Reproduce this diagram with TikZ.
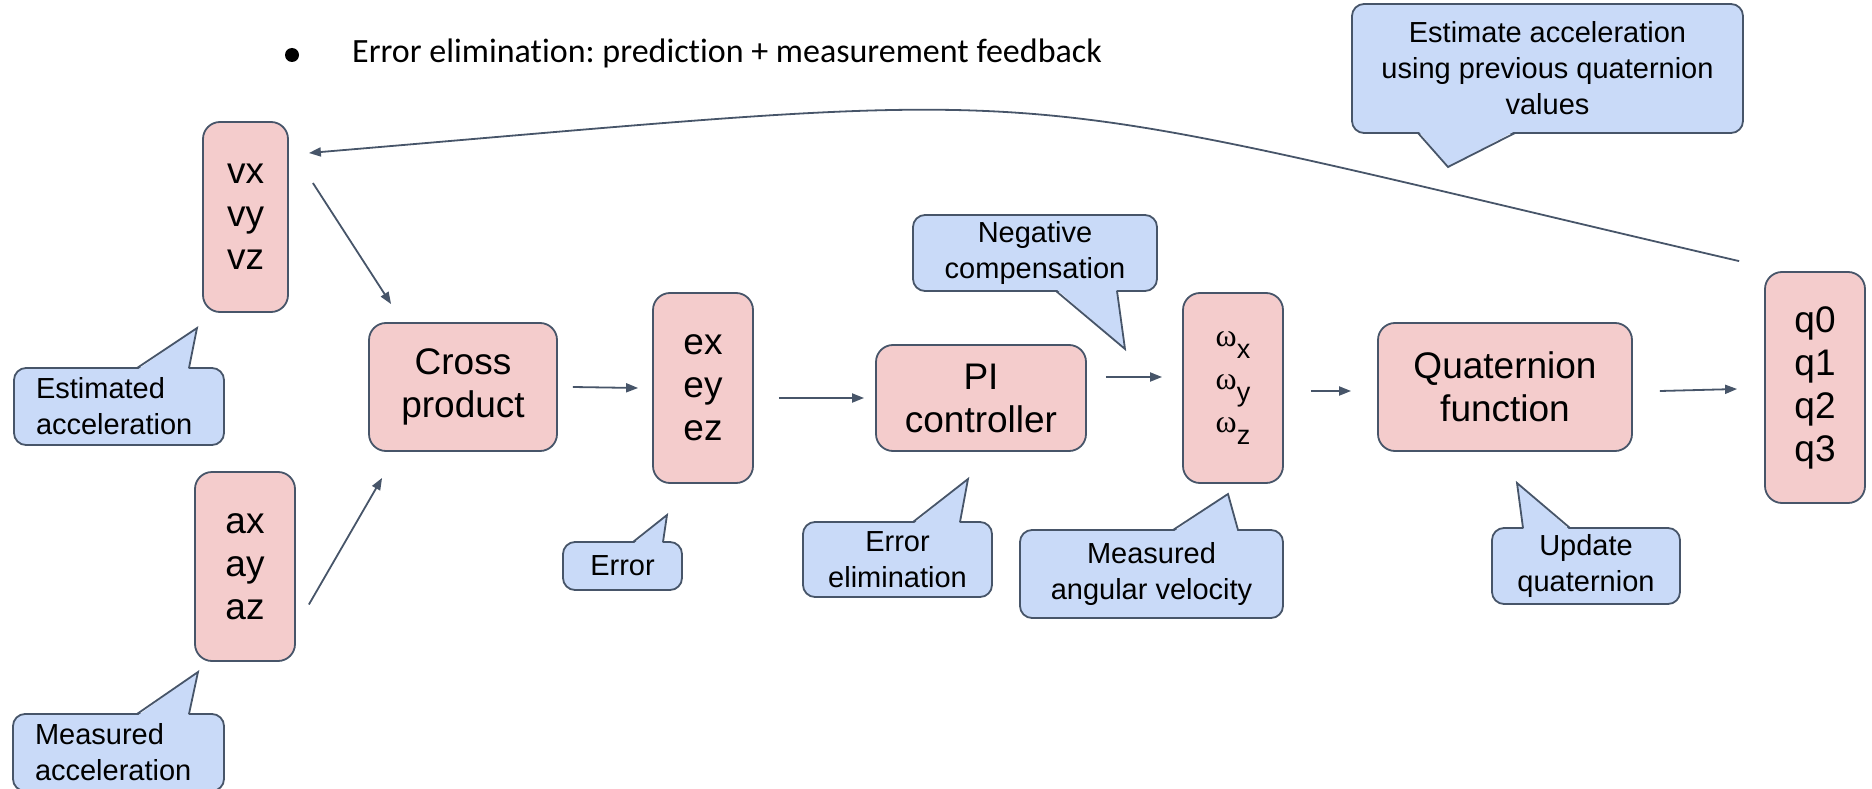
\documentclass[tikz,border=0pt]{standalone}
\usepackage{fontspec}
\setmainfont{Liberation Sans}
\newfontfamily\titlefont[Ligatures=NoCommon]{Carlito}
\newfontfamily\serfont{Liberation Serif}
\usetikzlibrary{arrows.meta,calc}
\definecolor{boxfill}{HTML}{F4CCCC}
\definecolor{callfill}{HTML}{C9DAF8}
\definecolor{edge}{HTML}{475569}
\frenchspacing
\newcommand\omg[1]{{\fontsize{32}{43}\serfont ω}{\fontsize{27}{43}\selectfont\raisebox{-12pt}{#1}}}
% tail: base y, inner y, b1, b2, tip x, tip y
\newcommand\tail[6]{%
  \fill[callfill] (#3+0.6,#2) -- (#5,#6) -- (#4-0.6,#2) -- cycle;
  \draw[ctail] (#3,#1) -- (#5,#6) -- (#4,#1);}
\begin{document}
\begin{tikzpicture}[x=1pt,y=-1pt,
  box/.style={draw=edge, fill=boxfill, line width=1.8pt, rounded corners=17pt,
    inner sep=0pt, align=center, font=\fontsize{37}{43}\selectfont},
  cbody/.style={draw=edge, fill=callfill, line width=1.8pt, rounded corners=12pt,
    inner sep=0pt, align=center, font=\fontsize{29}{36}\selectfont},
  arr/.style={draw=edge, line width=1.8pt, -{Triangle[length=12pt,width=9pt]}},
  ctail/.style={draw=edge, line width=1.8pt, line join=miter},
]
\useasboundingbox (0,0) rectangle (1872,789);

% title
\node[circle, fill=black, inner sep=0pt, minimum size=14pt] (bullet) at (292,55) {};
\node[anchor=base west, inner sep=0pt, font={\fontsize{34}{40}\titlefont\frenchspacing}] (title) at (352,63)
  {Error elimination: prediction + measurement feedback};

% boxes
\node[box, minimum width=85pt, minimum height=190pt] (vx) at (245.5,217) {vx\\vy\\vz};
\node[box, minimum width=100pt, minimum height=189pt] (ax) at (245,566.5) {ax\\ay\\az};
\node[box, minimum width=188pt, minimum height=128pt] (cross) at (463,387) {Cross\\product};
\node[box, minimum width=100pt, minimum height=190pt] (ex) at (703,388) {ex\\ey\\ez};
\node[box, minimum width=210pt, minimum height=106pt] (pi) at (981,398) {PI\\controller};
\node[box, minimum width=100pt, minimum height=190pt] (om) at (1233,388) {\omg{x}\\\omg{y}\\\omg{z}};
\node[box, minimum width=254pt, minimum height=128pt] (quat) at (1505,387) {Quaternion\\function};
\node[box, minimum width=100pt, minimum height=231pt] (q) at (1815,387.5) {q0\\q1\\q2\\q3};

% connectors
\draw[arr] ($(vx.east)+(24,-34)$) -- ($(cross.north west)+(23,-18)$);
\draw[arr] ($(ax.east)+(13,38)$) -- ($(cross.south west)+(14,26)$);
\draw[arr] ($(cross.east)+(15,0)$) -- ($(ex.west)+(-14,0)$);
\draw[arr] ($(ex.east)+(25,10)$) -- ($(pi.west)+(-11,0)$);
\draw[arr] ($(pi.east)+(19,-21)$) -- ($(om.west)+(-20,-11)$);
\draw[arr] ($(om.east)+(27,3)$) -- ($(quat.west)+(-26,4)$);
\draw[arr] ($(quat.east)+(27,4)$) -- ($(q.west)+(-27,1.5)$);
\draw[arr] ($(q.north west)+(-25,-10)$) .. controls (962,80) and (1105,86) .. ($(vx.east)+(20,-64)$);

% callouts
\node[cbody, minimum width=210pt, minimum height=77pt, text width=166pt, align=left] (estacc) at (119,406.5) {Estimated\\acceleration};
\tail{368}{369.6}{137}{189}{197}{328}
\node[cbody, minimum width=211pt, minimum height=77pt, text width=167pt, align=left] (measacc) at (118.5,752.5) {Measured\\acceleration};
\tail{714}{715.6}{137}{189}{198}{672}
\node[cbody, minimum width=119pt, minimum height=48pt] (err) at (622.5,566) {Error};
\tail{542}{543.6}{633}{663}{667}{515}
\node[cbody, minimum width=189pt, minimum height=75pt] (errelim) at (897.5,559.5) {Error\\elimination};
\tail{522}{523.6}{913}{960}{968}{479}
\node[cbody, minimum width=244pt, minimum height=76pt] (negcomp) at (1035,253) {Negative\\compensation};
\tail{291}{289.4}{1056}{1117}{1125}{349}
\node[cbody, minimum width=263pt, minimum height=88pt] (mav) at (1151.5,574) {Measured\\angular velocity};
\tail{530}{531.6}{1173}{1238}{1228}{494}
\node[cbody, minimum width=188pt, minimum height=76pt] (upd) at (1586,566) {Update\\quaternion};
\tail{528}{529.6}{1523}{1570}{1517}{483}
\node[cbody, minimum width=391pt, minimum height=129pt] (estq) at (1547.5,68.5) {Estimate acceleration\\using previous quaternion\\values};
\tail{133}{131.4}{1418}{1515}{1448}{167}
\end{tikzpicture}
\end{document}
